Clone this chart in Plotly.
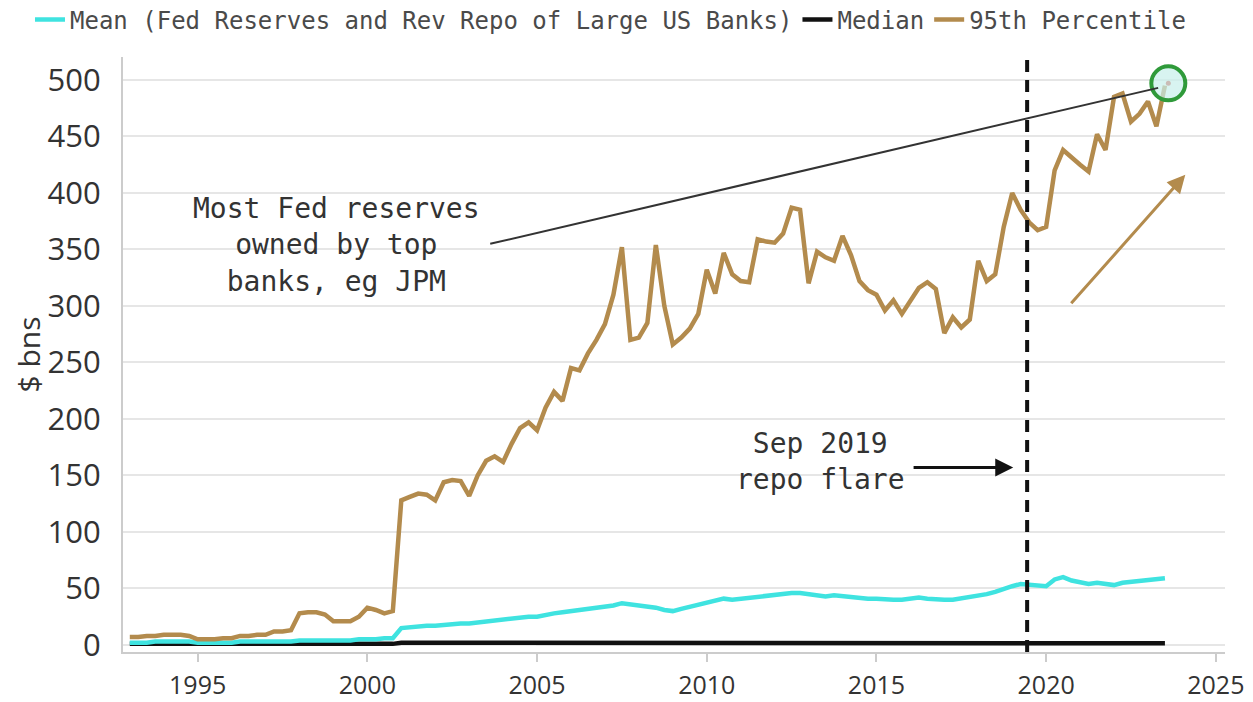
import plotly.graph_objects as go

# Quarterly observations, 1993 Q1 .. 2023 Q3
quarters = [1993 + 0.25 * i for i in range(123)]

p95 = [7, 7, 8, 8,  9, 9, 9, 8,  5, 5, 5, 6,  6, 8, 8, 9,  9, 12, 12, 13,
       28, 29, 29, 27,  21, 21, 21, 25,  33, 31, 28, 30,
       128, 131, 134, 133,  128, 144, 146, 145,  132, 150, 163, 167,
       162, 178, 192, 197,  190, 210, 224, 216,  245, 243, 258, 270,
       284, 310, 352, 270,  272, 285, 354, 300,  266, 272, 280, 293,
       332, 311, 347, 328,  322, 321, 359, 357,  356, 364, 387, 385,
       320, 348, 343, 340,  362, 345, 322, 314,  310, 296, 305, 293,
       305, 316, 321, 315,  276, 290, 281, 288,  340, 322, 328, 370,
       400, 385, 374, 367,  370, 420, 438, 431,  425, 419, 452, 438,
       485, 488, 463, 470,  481, 459, 495]

mean = [2, 2, 2, 3,  3, 3, 3, 3,  2, 2, 2, 2,  2, 3, 3, 3,  3, 3, 3, 3,
        4, 4, 4, 4,  4, 4, 4, 5,  5, 5, 6, 6,
        15, 16, 16, 17,  17, 18, 18, 19,  19, 20, 20, 21,  22, 23, 24, 25,
        25, 27, 28, 29,  30, 31, 32, 33,  34, 35, 37, 36,  35, 35, 33, 31,
        30, 32, 34, 36,  38, 39, 41, 40,  41, 42, 43, 44,  44, 45, 46, 46,
        45, 44, 43, 44,  43, 42, 42, 41,  41, 40, 40, 40,  41, 42, 41, 40,
        40, 40, 41, 42,  43, 45, 47, 50,  52, 54, 53, 53,  52, 58, 60, 57,
        55, 54, 55, 54,  53, 55, 56, 57,  57, 58, 59]

median = [1] * 32 + [2] * 24 + [2] * 24 + [1.5] * 28 + [1.5] * 15

year_ticks = [1995, 2000, 2005, 2010, 2015, 2020, 2025]
value_ticks = [0, 50, 100, 150, 200, 250, 300, 350, 400, 450, 500]

repo_flare_x = 2019.44
circle_pt = (2023.6, 497)

CYAN = "#3fe3e0"
GOLD = "#b38b4d"
MONO = "DejaVu Sans Mono"
SANS = "Open Sans"

fig = go.Figure()
fig.add_trace(go.Scatter(x=quarters, y=median, mode="lines", name="Median",
                         line=dict(color="#111111", width=4.5), legendrank=2))
fig.add_trace(go.Scatter(x=quarters, y=mean, mode="lines",
                         name="Mean (Fed Reserves and Rev Repo of Large US Banks)",
                         line=dict(color=CYAN, width=4.5), legendrank=1))
fig.add_trace(go.Scatter(x=quarters, y=p95, mode="lines", name="95th Percentile",
                         line=dict(color=GOLD, width=4.5), legendrank=3))

# dashed vertical line (Sep 2019 repo flare)
fig.add_shape(type="line", xref="x", yref="paper", x0=repo_flare_x, x1=repo_flare_x,
              y0=0, y1=1, line=dict(color="#111111", width=4, dash="12px,8px"))

# green circle on latest value
fig.add_shape(type="circle", xref="x", yref="y", xsizemode="pixel", ysizemode="pixel",
              xanchor=circle_pt[0], yanchor=circle_pt[1], x0=-17, x1=17, y0=-17, y1=17,
              line=dict(color="#2f9a3a", width=4), fillcolor="rgba(200,240,235,0.7)")
fig.add_trace(go.Scatter(x=[circle_pt[0]], y=[circle_pt[1]], mode="markers",
                         marker=dict(color="#d0453a", size=5), showlegend=False,
                         hoverinfo="skip"))

# pointer line from text to circle
fig.add_shape(type="line", xref="x", yref="y", x0=2003.62, y0=355, x1=2023.3, y1=493,
              line=dict(color="#333333", width=2))

fig.add_annotation(x=1999.1, y=354, xref="x", yref="y", showarrow=False,
                   text="Most Fed reserves<br>owned by top<br>banks, eg JPM",
                   align="center", font=dict(family=MONO, size=28, color="#333333"))

fig.add_annotation(x=2013.35, y=162, xref="x", yref="y", showarrow=False,
                   text="Sep 2019<br>repo flare", align="center",
                   font=dict(family=MONO, size=28, color="#333333"))

fig.add_annotation(x=2019.03, y=157, ax=2016.05, ay=157, xref="x", yref="y",
                   axref="x", ayref="y", text="", showarrow=True, arrowhead=2,
                   arrowsize=1.2, arrowwidth=3, arrowcolor="#111111")

fig.add_annotation(x=2024.1, y=416, ax=2020.7, ay=301, xref="x", yref="y",
                   axref="x", ayref="y", text="", showarrow=True, arrowhead=2,
                   arrowsize=1.2, arrowwidth=3, arrowcolor=GOLD)

fig.update_layout(
    width=1245, height=694,
    margin=dict(l=115, r=28, t=49, b=50, autoexpand=False),
    paper_bgcolor="white", plot_bgcolor="white",
    showlegend=True,
    legend=dict(orientation="h", x=-0.0844, y=1.10, xanchor="left", yanchor="top",
                font=dict(family=MONO, size=24, color="#4a4a4a"),
                itemwidth=30, bgcolor="rgba(0,0,0,0)"),
    xaxis=dict(range=[1992.8, 2025.27], tickvals=year_ticks,
               ticktext=[str(v) for v in year_ticks],
               showgrid=False, zeroline=False, showline=True,
               linecolor="#cccccc", linewidth=2, ticks="outside", ticklen=8,
               tickcolor="#cccccc", tickwidth=1.5, ticklabelstandoff=2,
               tickfont=dict(family=SANS, size=25, color="#333333")),
    yaxis=dict(range=[-6.2, 520.3], tickvals=value_ticks,
               showgrid=True, gridcolor="#e6e6e6", gridwidth=1.5,
               zeroline=False, showline=True, linecolor="#cccccc", linewidth=2,
               ticks="", ticklabelstandoff=14,
               tickfont=dict(family=SANS, size=31, color="#333333"),
               title=dict(text="$ bns", standoff=4,
                          font=dict(family=SANS, size=30, color="#333333"))),
)

fig.write_html("out.html")
